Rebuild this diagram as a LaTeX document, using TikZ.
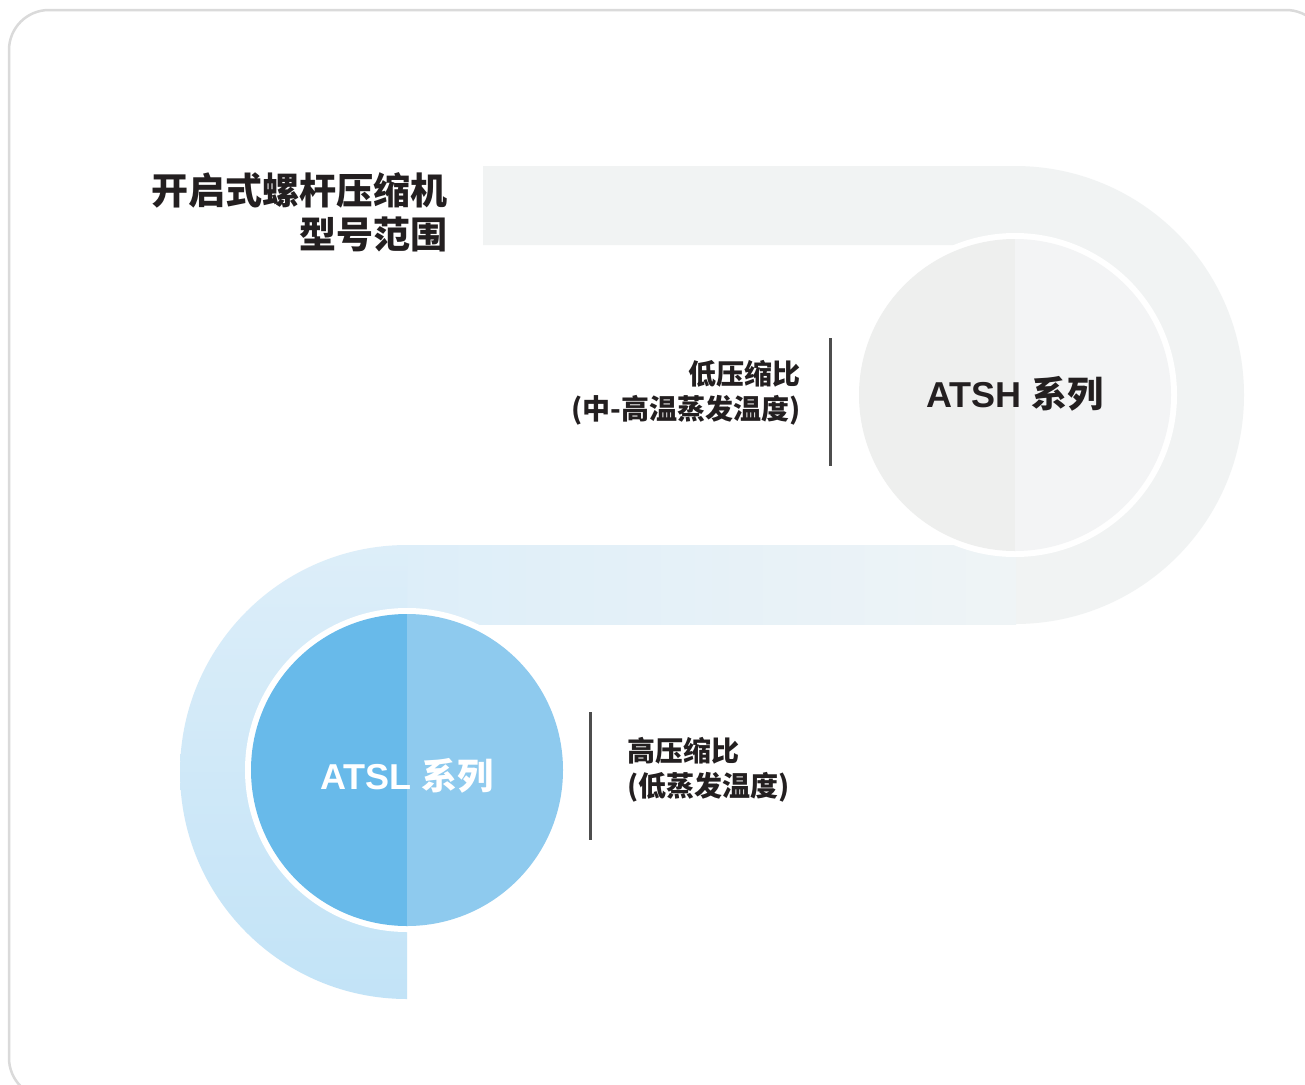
\documentclass[tikz,border=0pt]{standalone}
\usepackage{fontspec}
\newfontfamily\cjk{Noto Sans CJK SC}
\newfontfamily\lat{Liberation Sans}
\definecolor{ink}{HTML}{231F20}
\definecolor{frame}{HTML}{DADADA}
\definecolor{bandgray}{HTML}{F1F3F3}
\definecolor{bandmid}{HTML}{EFF4F6}
\definecolor{bandblue}{HTML}{DDEEF9}
\definecolor{bandblueb}{HTML}{C2E3F7}
\definecolor{hgrayL}{HTML}{EEEFEE}
\definecolor{hgrayR}{HTML}{F3F4F5}
\definecolor{lblueL}{HTML}{68BAEA}
\definecolor{lblueR}{HTML}{8ECAEE}
\definecolor{rule}{HTML}{4D4D4D}
\tikzset{
  ring/.style={circle, fill=white, inner sep=0pt, minimum size=324pt},
  label/.style={inner sep=0pt, text=ink, font=\cjk\bfseries\fontsize{28}{35}\selectfont},
  title/.style={inner sep=0pt, text=ink, align=right, font=\cjk\bfseries\fontsize{37}{44}\selectfont},
  series/.style={inner sep=0pt, font=\bfseries\fontsize{36}{40}\selectfont},
  vrule/.style={draw=rule, line width=3pt},
}
\begin{document}
\begin{tikzpicture}[x=1pt,y=-1pt]
\useasboundingbox (0,0) rectangle (1305,1084);
\fill[white] (0,0) rectangle (1305,1084);
% frame
\draw[frame, line width=2.5pt, rounded corners=40pt] (9,10) rectangle (1326,1098);
% band: top + right arc
\fill[bandgray] (483,166) -- (1015,166) arc[start angle=-90, end angle=90, radius=229]
  -- (1015,545) arc[start angle=90, end angle=-90, radius=150] -- (483,245) -- cycle;
% bottom straight band
\shade[left color=bandblue, right color=bandmid] (407,545) rectangle (1016,624);
% lower-left arc
\shade[top color=bandblue, bottom color=bandblueb] (407,545) arc[start angle=-90, end angle=-270, radius=227]
  -- (407,920) arc[start angle=90, end angle=270, radius=148] -- cycle;
% ATSH circle
\node[ring] (atsh) at (1015,395) {};
\fill[hgrayL] (1015,239) arc[start angle=-90, end angle=-270, radius=156] -- cycle;
\fill[hgrayR] (1015,239) arc[start angle=-90, end angle=90, radius=156] -- cycle;
\node[series, text=ink] (atshtext) at (1015,394) {{\lat ATSH }{\cjk 系列}};
% ATSL circle
\node[ring] (atsl) at (407,770) {};
\fill[lblueL] (407,614) arc[start angle=-90, end angle=-270, radius=156] -- cycle;
\fill[lblueR] (407,614) arc[start angle=-90, end angle=90, radius=156] -- cycle;
\node[series, text=white] (atsltext) at (407,776) {{\lat ATSL }{\cjk 系列}};
% title
\node[title, anchor=east] (title) at (448,212) {开启式螺杆压缩机\\型号范围};
% labels and rules
\coordinate (r1a) at (830,338);
\coordinate (r1b) at (830,466);
\draw[vrule] (r1a) -- (r1b);
\node[label, align=right, anchor=east] (lowlab) at (801,393) {低压缩比\\(中-高温蒸发温度)};
\coordinate (r2a) at (590,712);
\coordinate (r2b) at (590,840);
\draw[vrule] (r2a) -- (r2b);
\node[label, align=left, anchor=west] (highlab) at (627,770) {高压缩比\\(低蒸发温度)};
\end{tikzpicture}
\end{document}
